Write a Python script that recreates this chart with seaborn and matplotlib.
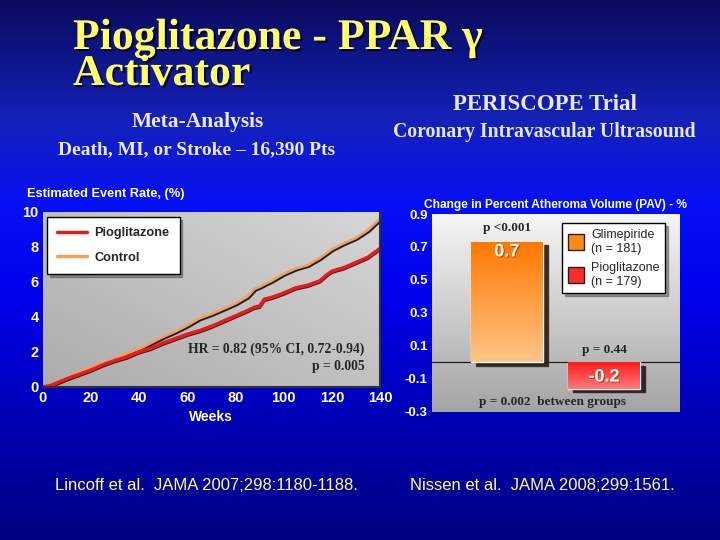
import numpy as np
import pandas as pd
import matplotlib
matplotlib.use("Agg")
import matplotlib.pyplot as plt
import matplotlib.patheffects as pe
from matplotlib.patches import Patch, Shadow
from matplotlib.lines import Line2D
from matplotlib.colors import LinearSegmentedColormap
import seaborn as sns

# --- left chart: meta-analysis event rate ---
weeks = [0, 3, 10, 15, 20, 25, 30, 35, 40, 45, 50, 55, 60, 65, 70, 75, 80,
         85, 88, 90, 92, 95, 100, 105, 110, 115, 118, 120, 125, 130, 135, 140]
pio_rate = [0, 0.05, 0.45, 0.7, 0.95, 1.25, 1.5, 1.7, 2.0, 2.2, 2.5, 2.75,
            3.0, 3.2, 3.45, 3.75, 4.05, 4.35, 4.55, 4.6, 5.0, 5.1, 5.35,
            5.65, 5.8, 6.05, 6.4, 6.6, 6.8, 7.1, 7.4, 7.9]
ctrl_rate = [0, 0.1, 0.5, 0.8, 1.1, 1.35, 1.6, 1.9, 2.15, 2.5, 2.85, 3.15,
             3.5, 3.9, 4.15, 4.45, 4.75, 5.15, 5.6, 5.7, 5.85, 6.05, 6.45,
             6.75, 6.95, 7.35, 7.65, 7.85, 8.2, 8.5, 8.95, 9.6]
week_ticks = [0, 20, 40, 60, 80, 100, 120, 140]
rate_ticks = [0, 2, 4, 6, 8, 10]

# --- right chart: PERISCOPE change in PAV ---
groups = ["Glimepiride", "Pioglitazone"]
group_n = [181, 179]
pav_change = [0.73, -0.16]
pav_labels = ["0.7", "-0.2"]
pav_ticks = [-0.3, -0.1, 0.1, 0.3, 0.5, 0.7, 0.9]

sns.set_style("white")
plt.rcParams["font.family"] = ["Liberation Sans", "DejaVu Sans"]
SERIF = ["Liberation Serif", "DejaVu Serif"]

fig = plt.figure(figsize=(7.2, 5.4), dpi=100)

# slide background
bg = fig.add_axes([0, 0, 1, 1], zorder=-10)
bg_cmap = LinearSegmentedColormap.from_list(
    "bg", [(0, "#0a0a5e"), (0.22, "#1422b8"), (0.38, "#0610f6"),
           (0.55, "#0000ec"), (0.8, "#0000b0"), (1, "#000080")])
bg.imshow(np.linspace(0, 1, 256).reshape(-1, 1), cmap=bg_cmap,
          aspect="auto", extent=[0, 1, 0, 1])
bg.axis("off")

# titles
title_fx = [pe.withSimplePatchShadow(offset=(1.5, -1.5),
                                     shadow_rgbFace="#000020", alpha=0.8)]
fig.text(73 / 720, 1 - 38 / 540, "Pioglitazone - PPAR γ", family=SERIF,
         fontsize=31.5, weight="bold", color="#ffff66", va="center",
         path_effects=title_fx)
fig.text(73 / 720, 1 - 74 / 540, "Activator", family=SERIF,
         fontsize=31.5, weight="bold", color="#ffff66", va="center",
         path_effects=title_fx)
sub = "#e8e8ff"
fig.text(198 / 720, 1 - 122 / 540, "Meta-Analysis", family=SERIF,
         fontsize=15.5, weight="bold", color=sub, ha="center", va="center")
fig.text(197 / 720, 1 - 150 / 540, "Death, MI, or Stroke – 16,390 Pts",
         family=SERIF, fontsize=14, weight="bold", color=sub,
         ha="center", va="center")
fig.text(545 / 720, 1 - 105 / 540, "PERISCOPE Trial", family=SERIF,
         fontsize=16.5, weight="bold", color=sub, ha="center", va="center")
fig.text(544 / 720, 1 - 132 / 540, "Coronary Intravascular Ultrasound",
         family=SERIF, fontsize=14.2, weight="bold", color=sub,
         ha="center", va="center")

# footers
fig.text(55 / 720, 1 - 485 / 540, "Lincoff et al.  JAMA 2007;298:1180-1188.",
         fontsize=12, color="#ffff88", va="center")
fig.text(410 / 720, 1 - 485 / 540, "Nissen et al.  JAMA 2008;299:1561.",
         fontsize=12, color="#ffff88", va="center")


def grad_panel(rect, top, bottom, diagonal=False):
    gax = fig.add_axes(rect, zorder=0)
    n = 128
    xx, yy = np.meshgrid(np.linspace(0, 1, n), np.linspace(1, 0, n))
    val = (xx + yy) / 2 if diagonal else yy
    cm = LinearSegmentedColormap.from_list("g", [bottom, top])
    gax.imshow(val, cmap=cm, aspect="auto", extent=[0, 1, 0, 1])
    gax.axis("off")


# ---------------- left chart ----------------
rect1 = [42.7 / 720, 1 - 386.7 / 540, 337.3 / 720, 175 / 540]
grad_panel(rect1, "#d6d6d6", "#acacac", diagonal=True)
ax1 = fig.add_axes(rect1, zorder=1)
ax1.set_facecolor("none")

df = pd.DataFrame({
    "Weeks": weeks + weeks,
    "Rate": ctrl_rate + pio_rate,
    "Arm": ["Control"] * len(weeks) + ["Pioglitazone"] * len(weeks),
})
colors = {"Pioglitazone": "#e31c1c", "Control": "#f2a05a"}
sns.lineplot(data=df, x="Weeks", y="Rate", hue="Arm", palette=colors,
             linewidth=2.5, legend=False, ax=ax1)
for line in ax1.lines:
    if line.get_color() == colors["Control"]:
        line.set_path_effects([pe.SimpleLineShadow(offset=(1.0, -1.0),
                                                   shadow_color="black",
                                                   alpha=0.85, rho=1),
                               pe.Normal()])
        line.set_linewidth(1.9)
    else:
        line.set_path_effects([pe.SimpleLineShadow(offset=(0, -0.8),
                                                   shadow_color="#500000",
                                                   alpha=0.9, rho=1),
                               pe.Normal()])

ax1.set_xlim(0, 140)
ax1.set_ylim(0, 10)
ax1.set_xticks(week_ticks)
ax1.set_yticks(rate_ticks)
ax1.tick_params(length=0, labelsize=10.5, colors="white", pad=3)
for lab in ax1.get_xticklabels() + ax1.get_yticklabels():
    lab.set_fontweight("bold")
ax1.set_xlabel("Weeks", color="white", fontsize=10, weight="bold",
               labelpad=4)
ax1.set_ylabel("")
ax1.text(-0.046, 1.1, "Estimated Event Rate, (%)", transform=ax1.transAxes,
         color="white", fontsize=9.2, weight="bold", va="center")
for s in ["top", "left"]:
    ax1.spines[s].set_visible(False)
for s in ["bottom", "right"]:
    ax1.spines[s].set_color("#303030")
    ax1.spines[s].set_linewidth(1.5)

h1 = [Line2D([], [], color=colors["Pioglitazone"], lw=2.5),
      Line2D([], [], color=colors["Control"], lw=2.5)]
leg1 = ax1.legend(h1, ["Pioglitazone", "Control"], loc="upper left",
                  bbox_to_anchor=(0.0127, 0.97), borderaxespad=0,
                  fancybox=False, shadow=True, framealpha=1,
                  edgecolor="black", handlelength=2.3, handletextpad=0.6,
                  borderpad=0.8, labelspacing=1.0,
                  prop={"size": 9.2, "weight": "bold"})
leg1.get_frame().set_linewidth(1.0)

ax1.text(133.7, 2.15, "HR = 0.82 (95% CI, 0.72-0.94)", family=SERIF,
         fontsize=9.8, weight="bold", ha="right", va="center")
ax1.text(133.7, 1.18, "p = 0.005", family=SERIF,
         fontsize=9.8, weight="bold", ha="right", va="center")

# ---------------- right chart ----------------
rect2 = [432 / 720, 1 - 411.7 / 540, 248 / 720, 197.7 / 540]
grad_panel(rect2, "#f6f6f6", "#a4a4a4")
ax2 = fig.add_axes(rect2, zorder=1)
ax2.set_facecolor("none")

bar_cols = {"Glimepiride": "#ff8a10", "Pioglitazone": "#ff2a2a"}
bar_df = pd.DataFrame({"Group": groups, "PAV": pav_change})
sns.barplot(data=bar_df, x="Group", y="PAV", hue="Group", palette=bar_cols,
            width=0.74, legend=False, ax=ax2, zorder=3)

grads = {"Glimepiride": ["#ff7800", "#ffc488"],
         "Pioglitazone": ["#ff1c1c", "#ff7a7a"]}
for patch, g in zip(list(ax2.patches), groups):
    # Shadow offset is in data units (scaled by dpi/72)
    sh = Shadow(patch, 0.035, -0.015, facecolor="#101010", alpha=0.85,
                zorder=2)
    ax2.add_patch(sh)
    x0, y0 = patch.get_x(), patch.get_y()
    w, h = patch.get_width(), patch.get_height()
    cm = LinearSegmentedColormap.from_list("b", grads[g])
    im = ax2.imshow(np.linspace(0, 1, 64).reshape(-1, 1), cmap=cm,
                    aspect="auto", zorder=4,
                    extent=[x0, x0 + w, min(y0, y0 + h), max(y0, y0 + h)])
    im.set_clip_path(patch)
ax2.set_xlim(-0.77, 1.78)
ax2.set_ylim(-0.3, 0.9)

ax2.axhline(0, color="#202020", lw=0.9, zorder=1)
for i, (v, lab) in enumerate(zip(pav_change, pav_labels)):
    ypos = v - 0.06 if v > 0 else v / 2 - 0.01
    ax2.text(i, ypos, lab, color="white", fontsize=13, weight="bold",
             ha="center", va="center", zorder=6,
             path_effects=[pe.withSimplePatchShadow(offset=(0.8, -0.8),
                                                    shadow_rgbFace="#7a3000",
                                                    alpha=0.6)])

ax2.set_xticks([])
ax2.set_yticks(pav_ticks)
ax2.set_yticklabels([f"{t:.1f}" for t in pav_ticks])
ax2.tick_params(length=0, labelsize=9.5, colors="white", pad=3)
for lab in ax2.get_yticklabels():
    lab.set_fontweight("bold")
ax2.set_xlabel("")
ax2.set_ylabel("")
for s in ax2.spines.values():
    s.set_visible(False)
ax2.text(0.5, 1.045, "Change in Percent Atheroma Volume (PAV) - %",
         transform=ax2.transAxes, color="white", fontsize=8.6,
         weight="bold", ha="center", va="center")

ax2.text(0, 0.815, "p <0.001", family=SERIF, fontsize=9.5, weight="bold",
         ha="center", va="center")
ax2.text(1, 0.074, "p = 0.44", family=SERIF, fontsize=9.5, weight="bold",
         ha="center", va="center")
ax2.text(0.484, -0.24, "p = 0.002  between groups", family=SERIF,
         fontsize=9.5, weight="bold", ha="center", va="center",
         transform=ax2.get_yaxis_transform())

h2 = [Patch(facecolor=bar_cols[g], edgecolor="#202020") for g in groups]
leg2 = ax2.legend(h2, [f"{g}\n(n = {n})" for g, n in zip(groups, group_n)],
                  loc="upper left", bbox_to_anchor=(0.524, 0.954),
                  borderaxespad=0, fancybox=False, shadow=True,
                  framealpha=1, edgecolor="black", handlelength=1.3,
                  handleheight=1.6, borderpad=0.45, labelspacing=0.6,
                  handletextpad=0.6, prop={"size": 9})
leg2.set_zorder(7)

fig.savefig("out.png", dpi=100)
